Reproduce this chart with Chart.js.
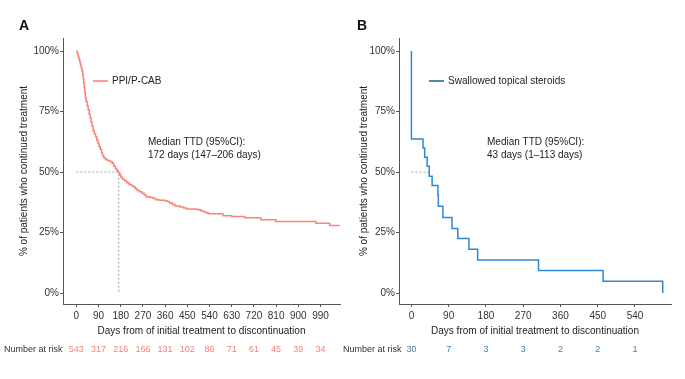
<!DOCTYPE html>
<html>
<head>
<meta charset="utf-8">
<script src="https://cdn.jsdelivr.net/npm/chart.js@4.4.1/dist/chart.umd.min.js"></script>
<style>
  body { margin: 0; background: #fff; }
  #wrap { position: relative; width: 685px; height: 379px; }
  canvas { position: absolute; top: 0; }
</style>
</head>
<body>
<div id="wrap">
  <canvas id="chartA" width="342" height="379" style="left:0"></canvas>
  <canvas id="chartB" width="343" height="379" style="left:342px"></canvas>
</div>
<script>
// --- data ---
const yTicks = [0, 25, 50, 75, 100];

// A: PPI/P-CAB
const ticksA = [0, 90, 180, 270, 360, 450, 540, 630, 720, 810, 900, 990];
const riskA = [543, 317, 216, 166, 131, 102, 86, 71, 61, 45, 39, 34];
const daysA = [0, 3, 5, 8, 11, 14, 17, 20, 23, 26, 28, 30, 32, 34, 37, 40, 44, 48, 52, 56, 60, 64, 68, 73, 78, 83, 88, 92, 97, 102,
  106, 111, 118, 126, 138, 146, 152, 158, 164, 170, 176, 181, 187, 195, 204, 214, 224, 232, 240, 247, 256, 266, 275, 283, 300,
  312, 323, 338, 360, 368, 378, 390, 400, 420, 435, 447, 480, 494, 504, 514, 525, 535, 582, 595, 630, 683, 748, 809, 971, 1027, 1068];
const survA = [100, 99.3, 98.5, 97.6, 96.5, 95.4, 94.1, 93.0, 91.8, 90.3, 88.6, 86.8, 84.9, 82.8, 80.6, 79.2, 77.4, 75.8, 74.0, 72.3,
  70.6, 68.9, 67.1, 65.8, 64.6, 63.2, 61.9, 60.6, 59.4, 58.1, 56.9, 55.9, 55.2, 54.8, 54.3, 53.5, 52.4, 51.5, 50.6, 49.8, 48.8, 47.9,
  47.1, 46.4, 45.6, 44.9, 44.4, 43.8, 43.0, 42.4, 41.9, 41.3, 40.5, 39.8, 39.5, 39.1, 38.6, 38.4, 38.2, 37.8, 37.2, 36.6, 36.0, 35.6,
  35.2, 34.7, 34.6, 34.4, 34.0, 33.6, 33.2, 32.8, 32.7, 32.0, 31.7, 31.1, 30.3, 29.6, 28.9, 27.9, 27.9];
const medianA = 172;

// B: swallowed topical steroids
const ticksB = [0, 90, 180, 270, 360, 450, 540];
const riskB = [30, 7, 3, 3, 2, 2, 1];
const daysB = [0, 0, 28, 32, 38, 43, 50, 64, 65, 76, 98, 112, 139, 160, 307, 463, 607];
const survB = [100, 63.7, 60.0, 56.1, 52.4, 48.3, 44.5, 40.4, 35.9, 31.2, 26.7, 22.6, 18.1, 13.7, 9.3, 4.9, 0];
const medianB = 43;

const FONT = "'Liberation Sans', Arial, sans-serif";

function extras(o) {
  return {
    id: 'extras' + o.letter,
    afterDraw(chart) {
      const ctx = chart.ctx;
      const xs = chart.scales.x;
      ctx.save();
      // panel letter
      ctx.fillStyle = '#111';
      ctx.font = 'bold 14px ' + FONT;
      ctx.textBaseline = 'middle';
      ctx.textAlign = 'left';
      ctx.fillText(o.letter, o.letterX, 26);
      // legend
      ctx.strokeStyle = o.keyColor;
      ctx.lineWidth = 1.6;
      ctx.beginPath();
      ctx.moveTo(o.legendX, 81);
      ctx.lineTo(o.legendX + 15, 81);
      ctx.stroke();
      ctx.fillStyle = '#222';
      ctx.font = '10px ' + FONT;
      ctx.fillText(o.legend, o.legendX + 19, 81);
      // median note
      ctx.fillText('Median TTD (95%CI):', o.noteX, 142);
      ctx.fillText(o.note, o.noteX, 155);
      // number at risk
      ctx.font = '9px ' + FONT;
      ctx.fillStyle = '#333';
      ctx.fillText('Number at risk', o.riskLabelX, 350);
      ctx.fillStyle = o.riskColor;
      ctx.textAlign = 'center';
      o.xTicks.forEach((t, i) => {
        ctx.fillText(String(o.risk[i]), xs.getPixelForValue(t), 350);
      });
      ctx.restore();
    }
  };
}

function kmChart(id, o) {
  const axisColor = '#555';
  return new Chart(document.getElementById(id), {
    type: 'line',
    data: {
      datasets: [
        {
          data: o.days.map((d, i) => ({ x: d, y: o.surv[i] })),
          borderColor: o.color,
          borderWidth: 1.5,
          stepped: 'before', // horizontal, then drop
          pointRadius: 0,
          fill: false
        },
        {
          data: o.medianLine,
          borderColor: '#8a8a8a',
          borderWidth: 0.8,
          borderDash: [2, 2],
          pointRadius: 0,
          fill: false
        }
      ]
    },
    options: {
      responsive: false,
      animation: false,
      layout: { padding: { left: 0, right: o.padRight, top: 38, bottom: 0 } },
      plugins: { legend: { display: false }, tooltip: { enabled: false } },
      scales: {
        x: {
          type: 'linear',
          min: o.xMin,
          max: o.xMax,
          afterBuildTicks: s => { s.ticks = o.xTicks.map(v => ({ value: v })); },
          afterFit: s => { s.height = 75; },
          grid: { display: true, drawOnChartArea: false, drawTicks: true, tickLength: 3, color: axisColor },
          border: { color: axisColor, width: 1 },
          ticks: { font: { size: 10, family: FONT }, color: '#333', padding: 3, maxRotation: 0, autoSkip: false },
          title: {
            display: true,
            text: 'Days from of initial treatment to discontinuation',
            font: { size: 10, family: FONT },
            color: '#222',
            padding: { top: 0, bottom: 42 }
          }
        },
        y: {
          type: 'linear',
          min: -4.5,
          max: 105.4,
          afterBuildTicks: s => { s.ticks = yTicks.map(v => ({ value: v })); },
          afterFit: s => { s.width = o.yWidth; },
          grid: { display: true, drawOnChartArea: false, drawTicks: true, tickLength: 3, color: axisColor },
          border: { color: axisColor, width: 1 },
          ticks: { font: { size: 10, family: FONT }, color: '#333', padding: 1, callback: v => v + '%' },
          title: {
            display: true,
            text: '% of patients who continued treatment',
            font: { size: 10, family: FONT },
            color: '#222',
            padding: { top: o.yTitlePad, bottom: 0 }
          }
        }
      }
    },
    plugins: [extras(o)]
  });
}

kmChart('chartA', {
  letter: 'A', letterX: 19,
  days: daysA, surv: survA, color: '#F9847B', keyColor: '#F9847B',
  medianLine: [{ x: 0, y: 50 }, { x: medianA, y: 50 }, { x: medianA, y: 0 }],
  xTicks: ticksA, xMin: -54, xMax: 1069, risk: riskA, riskColor: '#F4847C',
  padRight: 2, yWidth: 63, yTitlePad: 18,
  legend: 'PPI/P-CAB', legendX: 93,
  note: '172 days (147\u2013206 days)', noteX: 148,
  riskLabelX: 4
});

kmChart('chartB', {
  letter: 'B', letterX: 15,
  days: daysB, surv: survB, color: '#2E88D6', keyColor: '#2C6A98',
  medianLine: [{ x: 0, y: 50 }, { x: medianB, y: 50 }],
  xTicks: ticksB, xMin: -30, xMax: 627, risk: riskB, riskColor: '#4683AE',
  padRight: 14, yWidth: 57, yTitlePad: 16,
  legend: 'Swallowed topical steroids', legendX: 87,
  note: '43 days (1\u2013113 days)', noteX: 145,
  riskLabelX: 1
});
</script>
</body>
</html>
